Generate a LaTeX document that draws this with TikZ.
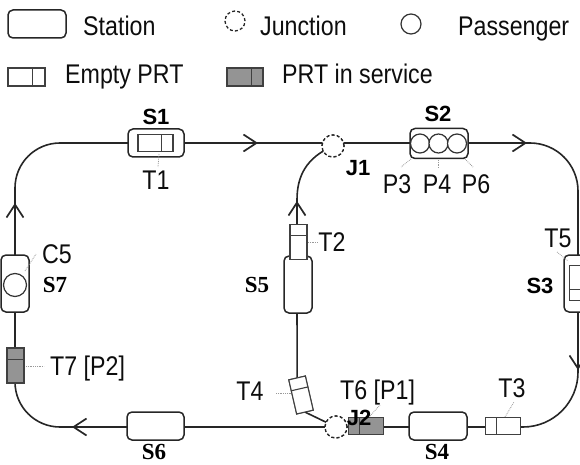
\documentclass[tikz,border=0pt]{standalone}
\usepackage{fontspec}
\setmainfont{Liberation Sans}[FakeStretch=0.86]
\newfontfamily\bsans{Liberation Sans}
\newfontfamily\bserif{Liberation Serif}
\usetikzlibrary{arrows.meta,calc}
\newcommand\prtdiv[2][0.32]{\draw[draw=black!75, line width=1.1pt] ($(#2.north east)!#1!(#2.north west)$) -- ($(#2.south east)!#1!(#2.south west)$);}
\begin{document}
\begin{tikzpicture}[x=1pt,y=-1pt,
 track/.style={line width=1.6pt, draw=black!85},
 arr/.style={line width=2.6pt, draw=black!85, -{Straight Barb[length=13pt,width=17pt,line width=1.7pt]}},
 hst/.style={draw=black!85, line width=1.5pt, rounded corners=5pt, fill=white, minimum width=56pt, minimum height=28pt, inner sep=0pt, outer sep=0pt},
 vst/.style={hst, minimum width=28pt, minimum height=57pt},
 prt/.style={draw=black!75, line width=1.1pt, fill=white, minimum width=35pt, minimum height=17pt, inner sep=0pt, outer sep=0pt},
 busy/.style={prt, fill=black!42},
 junc/.style={circle, draw=black!85, dash pattern=on 3pt off 2.2pt, line width=1.3pt, fill=white, minimum size=22pt, inner sep=0pt},
 pax/.style={circle, draw=black!80, line width=1.2pt, fill=white, minimum size=19pt, inner sep=0pt},
 lab/.style={font=\fontsize{27}{27}\selectfont, inner sep=0pt, text=black!95},
 bs/.style={font=\bsans\bfseries\fontsize{22}{22}\selectfont, inner sep=0pt},
 br/.style={font=\bserif\bfseries\fontsize{23}{23}\selectfont, inner sep=0pt},
 lead/.style={draw=black!40, line width=0.8pt, densely dotted},
]
\useasboundingbox (0,0) rectangle (580,465);
\clip (0,0) rectangle (580,465);

% ---------- legend ----------
\node[hst, minimum width=58pt] (LS) at (37,24) {};
\node[lab, anchor=base west] (LSt) at (83,36) {Station};
\node[junc, minimum size=20pt] (LJ) at (235,21) {};
\node[lab, anchor=base west] (LJt) at (260,36) {Junction};
\node[pax, minimum size=20pt] (LP) at (411,24) {};
\node[lab, anchor=base west] (LPt) at (458,36) {Passenger};
\node[prt, minimum width=37pt, minimum height=18pt] (LE) at (26.5,77) {};
\prtdiv[0.35]{LE}
\node[lab, anchor=base west] (LEt) at (65,84) {Empty PRT};
\node[busy, minimum width=36pt, minimum height=18pt] (LB) at (245,77) {};
\prtdiv[0.33]{LB}
\node[lab, anchor=base west] (LBt) at (282,84) {PRT in service};

% ---------- tracks ----------
\draw[track] (15,300) [rounded corners=45pt] -- (15,143) -- (300,143)
  [rounded corners=48pt] -- (578,143) -- (578,300)
  [rounded corners=55pt] -- (578,427) -- (300,427)
  [rounded corners=45pt] -- (15,427) -- cycle;

\node[junc] (J1) at (333,146) {};
\node[junc] (J2) at (336,427) {};
\node[prt, rotate=103] (T4) at (301,395) {};
\draw[track] (J1.center) .. controls (306,158) and (297,176) .. (297,200) -- (T4.east);
\draw[track] (T4.west) -- (J2.center);
\node[prt, rotate=103] (T4b) at (301,395) {};
\prtdiv{T4b}
\node[junc] (J1b) at (333,146) {};
\node[junc] (J2b) at (336,427) {};

% ---------- direction arrows ----------
\draw[arr] (205,143) -- (258,143);
\draw[arr] (490,143) -- (527,143);
\draw[arr] (578,335) -- (578,370);
\draw[arr] (105,427) -- (72,427);
\draw[arr] (15,238) -- (15,203);
\draw[arr] (297,222) -- (297,201);

% ---------- stations and vehicles ----------
\node[hst] (S1) at (156,143) {};
\node[prt] (T1) at (155.5,143) {};
\prtdiv{T1}
\node[hst, minimum width=58pt, minimum height=30pt] (S2) at (439,143.5) {};
\node[pax] (P3) at (420,143.5) {};
\node[pax] (P4) at (438.5,143.5) {};
\node[pax] (P6) at (457,143.5) {};
\node[vst] (S5) at (298,284.5) {};
\node[prt, rotate=90] (T2) at (298.5,242) {};
\prtdiv{T2}
\node[busy, rotate=180] (T6) at (366,426) {};
\prtdiv{T6}
\node[hst, minimum width=58pt] (S4) at (438,426) {};
\node[prt, rotate=180] (T3) at (503,426) {};
\prtdiv{T3}
\node[hst, minimum width=57pt] (S6) at (155.5,426) {};
\node[vst] (S7) at (15,283.5) {};
\node[pax, minimum size=23pt] (C5) at (15,285) {};
\node[busy, rotate=90] (T7) at (15.5,365.5) {};
\prtdiv{T7}
\node[vst] (S3) at (578,283.5) {};
\node[prt, rotate=-90] (T5) at (578,283) {};
\prtdiv{T5}

% ---------- leaders ----------
\draw[lead] (159,154) -- (158,167);
\draw[lead] (411,159) -- (401,167);
\draw[lead] (438,160) -- (438,168);
\draw[lead] (465,159) -- (473,167);
\draw[lead] (308,242) -- (318,242);
\draw[lead] (557,252) -- (568,261);
\draw[lead] (25,271) -- (36,254);
\draw[lead] (26,366) -- (44,366);
\draw[lead] (276,393) -- (293,393);
\draw[lead] (370,416) -- (380,405);
\draw[lead] (505,417) -- (514,402);

% ---------- labels ----------
\node[bs] (lS1) at (156,116.5) {S1};
\node[bs] (lS2) at (438,113.5) {S2};
\node[bs] (lJ1) at (358,168) {J1};
\node[bs] (lS3) at (540,285.5) {S3};
\node[br] (lS5) at (257,285) {S5};
\node[br] (lS7) at (55,285) {S7};
\node[br] (lS6) at (154,452) {S6};
\node[br] (lS4) at (437,452) {S4};
\node[bs] (lJ2) at (359,418) {J2};

\node[lab] (lT1) at (156,180) {T1};
\node[lab] (lP3) at (397,184) {P3};
\node[lab] (lP4) at (437,184) {P4};
\node[lab] (lP6) at (476,184) {P6};
\node[lab] (lT2) at (332,242) {T2};
\node[lab] (lT5) at (558,238) {T5};
\node[lab] (lC5) at (57,254) {C5};
\node[lab, anchor=base west] (lT7) at (50,375) {T7 [P2]};
\node[lab] (lT4) at (250,391) {T4};
\node[lab, anchor=base west] (lT6) at (340,399) {T6 [P1]};
\node[lab] (lT3) at (512,388) {T3};
\end{tikzpicture}
\end{document}
